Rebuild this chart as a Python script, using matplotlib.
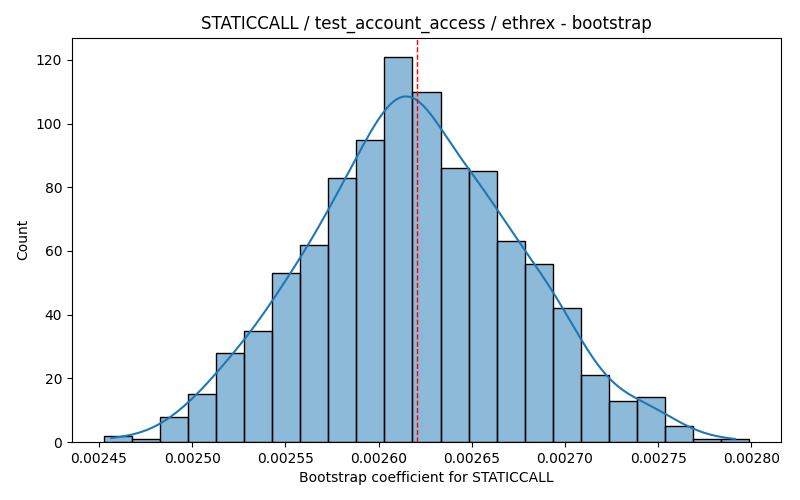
import numpy as np
import matplotlib
matplotlib.use("Agg")
import matplotlib.pyplot as plt
import seaborn as sns

# Histogram bins and counts
bin_start = 0.0024528
bin_end = 0.0027986
counts = [2, 1, 8, 15, 28, 35, 53, 62, 83, 95, 121, 110, 86, 85, 63, 56, 42, 21, 13, 14, 5, 1, 1]
mean_value = 0.0026204
title = "STATICCALL / test_account_access / ethrex - bootstrap"
xlabel = "Bootstrap coefficient for STATICCALL"

edges = np.linspace(bin_start, bin_end, len(counts) + 1)
samples = []
for i, c in enumerate(counts):
    w = edges[i + 1] - edges[i]
    for j in range(c):
        samples.append(edges[i] + (j + 0.5) / c * w)
samples = np.array(samples)

fig, ax = plt.subplots(figsize=(8, 5), dpi=100)
sns.histplot(samples, bins=edges, kde=True, ax=ax)
ax.axvline(mean_value, color="red", linestyle="--", linewidth=1)
ax.set_title(title)
ax.set_xlabel(xlabel)
ax.set_ylabel("Count")
fig.subplots_adjust(left=0.09, right=0.97625, top=0.925, bottom=0.116)
fig.savefig("out.png")
